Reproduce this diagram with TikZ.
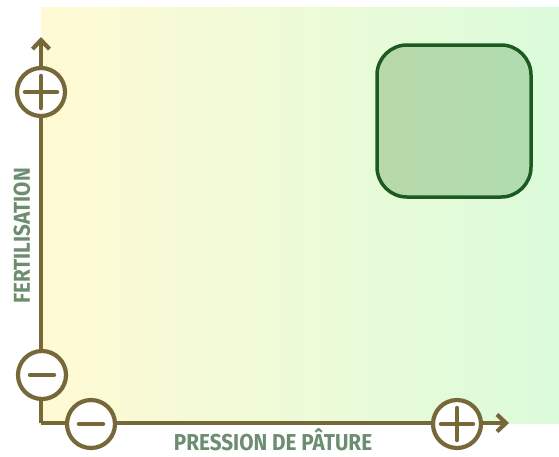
\documentclass[tikz,border=0pt]{standalone}
\usepackage{fontspec}
\setmainfont{Fira Sans}
\newfontfamily\labelfont[FakeStretch=0.9]{Fira Sans}
\usepackage{xcolor}
\usetikzlibrary{positioning, arrows.meta, calc}

\definecolor{axisbrown}{HTML}{77683A}
\definecolor{labelgreen}{HTML}{6C8D6F}
\definecolor{boxgreen}{HTML}{1D5A22}
\definecolor{bgyellow}{HTML}{FFFAD4}
\definecolor{bggreen}{HTML}{DBFBDB}
\definecolor{fillleft}{HTML}{B8D9A9}
\definecolor{fillright}{HTML}{B0DCB0}

\tikzset{
    axisline/.style={draw=axisbrown, line width=4.2pt},
    signcircle/.style={circle, draw=axisbrown, line width=4.2pt, fill=white, minimum size=48pt, inner sep=0pt},
    signbar/.style={draw=axisbrown, line width=4.5pt, line cap=round},
    axislabel/.style={text=labelgreen, font=\labelfont\bfseries\fontsize{23}{23}\selectfont, inner sep=0pt}
}

\begin{document}
\begin{tikzpicture}[x=1pt, y=-1pt]
    \useasboundingbox (0,0) rectangle (559,456);
    % background gradient
    \shade[left color=bgyellow, right color=bggreen, middle color=bggreen!50!bgyellow] (41,7) rectangle (559,423);

    % axes
    \coordinate (corner) at (41,423);
    \coordinate (ytip) at (41,37);
    \coordinate (xtip) at (509,423);
    \draw[axisline, -{Straight Barb[length=9pt, width=17pt]}] (corner) -- (ytip);
    \draw[axisline, -{Straight Barb[length=9pt, width=17pt]}] (corner) -- (xtip);

    % plus and minus marks
    \node[signcircle] (fertplus) at (41,92) {};
    \node[signcircle] (fertminus) at (42,375) {};
    \node[signcircle] (pressminus) at (91,424) {};
    \node[signcircle] (pressplus) at (457,424) {};
    \foreach \n in {fertplus, pressplus} {
        \draw[signbar] ($(\n)+(-16,0)$) -- ($(\n)+(16,0)$);
        \draw[signbar] ($(\n)+(0,-16)$) -- ($(\n)+(0,16)$);
    }
    \foreach \n in {fertminus, pressminus}
        \draw[signbar] ($(\n)+(-12,0)$) -- ($(\n)+(12,0)$);

    % target zone
    \shade[left color=fillleft, right color=fillright, draw=boxgreen, line width=3.5pt, rounded corners=30pt]
        (377,45) rectangle (531,197);
    \node[coordinate] (zone) at (454,121) {};

    % labels
    \node[axislabel, rotate=90] (fertlabel) at (22,236) {FERTILISATION};
    \node[axislabel] (presslabel) at (273,440) {PRESSION DE PÂTURE};
\end{tikzpicture}
\end{document}
